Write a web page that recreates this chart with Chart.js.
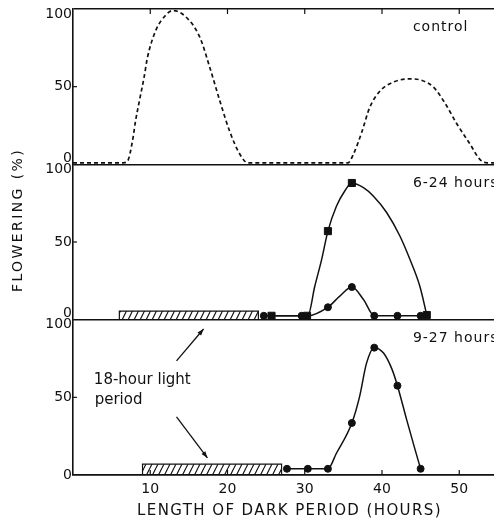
<!DOCTYPE html>
<html>
<head>
<meta charset="utf-8">
<script src="https://cdn.jsdelivr.net/npm/chart.js@4/dist/chart.umd.min.js"></script>
<style>
  html, body { margin: 0; padding: 0; background: #fff; }
  #chart { display: block; }
</style>
</head>
<body>
<canvas id="chart" width="494" height="522"></canvas>
<script>
"use strict";

const ink = "#111";

const hourTicks = [10, 20, 30, 40, 50];
const flowTicks = [0, 50, 100];
const panelAxes = ["yTop", "yMid", "yBot"];
const panelLabels = ["control", "6-24 hours", "9-27 hours"];

// control: dashed trace
const controlHours = [0, 6.5, 7.05, 7.7, 8.1, 8.6, 9.2, 9.65, 10.7, 12, 12.9, 14.6, 16.4, 17.7, 19, 20.3, 21.6, 22.6,
  35.6, 36.3, 37.4, 38.4, 39.7, 41.5, 43.6, 45.2, 46.7, 48.2, 49.7, 51.4, 52.7, 53.6, 54.5];
const controlFlowering = [1, 1, 2, 15, 28, 41, 56, 69, 86, 96, 99, 95, 82, 62.5, 41, 21, 6.5, 1,
  1, 6.5, 21, 36.5, 47, 53, 55, 54, 49.5, 39, 26, 13, 3, 1, 1];

// 6-24 hours light period
const lightHoursA = [6, 6, 24, 24];
const lightLevelA = [0, 5.5, 5.5, 0];
const squareHours = [25.7, 30.3, 33, 36.1, 45.8];
const squareFlowering = [2.5, 2.5, 57, 88, 3];
const squareCurveHours = [25.7, 29.6, 30.4, 31.3, 32.2, 33, 34.1, 35.2, 36.1, 37.6, 38.9, 40.6, 42.3, 43.6, 44.9, 45.8];
const squareCurveFlowering = [2.5, 2.5, 2.5, 21.5, 39, 57, 73, 83, 88, 85, 79.5, 69, 54, 39, 21.5, 3];
const dotHoursA = [24.7, 29.6, 33, 36.1, 39, 42, 45];
const dotFloweringA = [2.5, 2.5, 8, 21, 2.5, 2.5, 2.5];
const dotCurveHoursA = [24.7, 29.6, 30.4, 33, 34.5, 36.1, 37.6, 39, 42, 45];
const dotCurveFloweringA = [2.5, 2.5, 2.5, 8, 15, 21, 13, 2.5, 2.5, 2.5];

// 9-27 hours light period
const lightHoursB = [9, 9, 27, 27];
const lightLevelB = [0, 7, 7, 0];
const dotHoursB = [27.7, 30.4, 33, 36.1, 39, 42, 45];
const dotFloweringB = [4, 4, 4, 33.5, 82, 57.5, 4];
const dotCurveHoursB = [27.7, 30.4, 33, 34.1, 36.1, 37.1, 38, 39, 40.2, 41.3, 42, 43.2, 44.3, 45];
const dotCurveFloweringB = [4, 4, 4, 14, 33.5, 50.5, 72, 82, 78.5, 68, 57.5, 35.5, 16, 4];

function toPoints(xs, ys) {
  return xs.map((x, i) => ({ x, y: ys[i] }));
}

function hatchPattern() {
  const tile = document.createElement("canvas");
  tile.width = 6;
  tile.height = 12;
  const c = tile.getContext("2d");
  c.strokeStyle = ink;
  c.lineWidth = 1.2;
  c.beginPath();
  c.moveTo(0, 12); c.lineTo(6, 0);
  c.moveTo(-6, 12); c.lineTo(0, 0);
  c.moveTo(6, 12); c.lineTo(12, 0);
  c.stroke();
  return c.createPattern(tile, "repeat");
}

const hatch = hatchPattern();

function curve(xs, ys, axis, extra) {
  return Object.assign({
    type: "line",
    data: toPoints(xs, ys),
    yAxisID: axis,
    borderColor: ink,
    borderWidth: 1.5,
    pointRadius: 0,
    cubicInterpolationMode: "monotone",
    fill: false
  }, extra || {});
}

function markers(xs, ys, axis, style, radius) {
  return {
    type: "line",
    data: toPoints(xs, ys),
    yAxisID: axis,
    showLine: false,
    pointStyle: style,
    pointRadius: radius,
    pointBackgroundColor: ink,
    pointBorderColor: ink,
    pointBorderWidth: 1
  };
}

function lightBar(xs, ys, axis) {
  return {
    type: "line",
    data: toPoints(xs, ys),
    yAxisID: axis,
    borderColor: ink,
    borderWidth: 1.2,
    backgroundColor: hatch,
    pointRadius: 0,
    tension: 0,
    fill: "origin"
  };
}

function drawArrow(ctx, x1, y1, x2, y2) {
  const angle = Math.atan2(y2 - y1, x2 - x1);
  ctx.beginPath();
  ctx.moveTo(x1, y1);
  ctx.lineTo(x2, y2);
  ctx.stroke();
  ctx.beginPath();
  ctx.moveTo(x2, y2);
  ctx.lineTo(x2 - 7 * Math.cos(angle - 0.35), y2 - 7 * Math.sin(angle - 0.35));
  ctx.lineTo(x2 - 7 * Math.cos(angle + 0.35), y2 - 7 * Math.sin(angle + 0.35));
  ctx.closePath();
  ctx.fill();
}

const annotations = {
  id: "annotations",
  afterDraw(chart) {
    const { ctx, chartArea, scales } = chart;
    const x = scales.x;

    ctx.save();
    ctx.fillStyle = ink;
    ctx.strokeStyle = ink;
    ctx.lineWidth = 1.2;

    // y tick labels, nudged off the panel joins
    ctx.font = "14px 'DejaVu Sans'";
    ctx.textAlign = "right";
    ctx.textBaseline = "middle";
    panelAxes.forEach((id, i) => {
      const scale = scales[id];
      const last = i === panelAxes.length - 1;
      flowTicks.forEach((v) => {
        let y = scale.getPixelForValue(v);
        if (v === 100) y += 5;
        if (v === 0 && !last) y -= 6;
        ctx.fillText(String(v), chartArea.left - 1, y);
      });
      const y50 = scale.getPixelForValue(50);
      ctx.beginPath();
      ctx.moveTo(chartArea.left, y50);
      ctx.lineTo(chartArea.left + 4, y50);
      ctx.stroke();
    });

    // inward x ticks on top and bottom frame
    hourTicks.forEach((h) => {
      const px = x.getPixelForValue(h);
      ctx.beginPath();
      ctx.moveTo(px, chartArea.bottom);
      ctx.lineTo(px, chartArea.bottom - 5);
      ctx.moveTo(px, chartArea.top);
      ctx.lineTo(px, chartArea.top + 5);
      ctx.stroke();
    });

    // panel labels
    ctx.textAlign = "left";
    ctx.font = "14px 'DejaVu Sans'";
    ctx.letterSpacing = "1px";
    panelAxes.forEach((id, i) => {
      ctx.fillText(panelLabels[i], x.getPixelForValue(44), scales[id].getPixelForValue(88));
    });

    // light period note with arrows
    const yb = scales.yBot;
    ctx.font = "15px 'DejaVu Sans'";
    ctx.letterSpacing = "0px";
    ctx.fillText("18-hour light", x.getPixelForValue(2.7), yb.getPixelForValue(61));
    ctx.fillText("period", x.getPixelForValue(2.8), yb.getPixelForValue(48));
    ctx.lineWidth = 1.3;
    drawArrow(ctx, x.getPixelForValue(13.4), yb.getPixelForValue(73.5), x.getPixelForValue(16.9), yb.getPixelForValue(94));
    drawArrow(ctx, x.getPixelForValue(13.4), yb.getPixelForValue(37.4), x.getPixelForValue(17.4), yb.getPixelForValue(11));

    // axis titles
    ctx.textAlign = "center";
    ctx.font = "15px 'DejaVu Sans'";
    ctx.letterSpacing = "1.4px";
    ctx.fillText("LENGTH OF DARK PERIOD (HOURS)", (chartArea.left + chartArea.right) / 2 + 6, 511);

    ctx.font = "14px 'DejaVu Sans'";
    ctx.letterSpacing = "2.4px";
    ctx.translate(18, 220);
    ctx.rotate(-Math.PI / 2);
    ctx.fillText("FLOWERING (%)", 0, 0);
    ctx.restore();
  }
};

function panelAxis(weight, top) {
  return {
    type: "linear",
    position: "left",
    stack: "panels",
    stackWeight: 1,
    weight,
    min: 0,
    max: 100,
    ticks: { stepSize: 50, display: false },
    grid: {
      drawTicks: false,
      lineWidth: 1.6,
      color: (ctx) => {
        const v = ctx.tick && ctx.tick.value;
        return v === 0 || (top && v === 100) ? ink : "transparent";
      }
    },
    border: { display: true, color: ink, width: 1.6 },
    afterFit: (scale) => {
      scale.width = 73;
      scale.paddingTop = 0;
      scale.paddingBottom = 0;
    }
  };
}

Chart.defaults.font.family = "'DejaVu Sans'";
Chart.defaults.color = ink;

new Chart(document.getElementById("chart"), {
  type: "line",
  data: {
    datasets: [
      curve(controlHours, controlFlowering, "yTop", { borderDash: [4, 3], borderWidth: 1.7 }),
      lightBar(lightHoursA, lightLevelA, "yMid"),
      curve(squareCurveHours, squareCurveFlowering, "yMid"),
      curve(dotCurveHoursA, dotCurveFloweringA, "yMid"),
      markers(squareHours, squareFlowering, "yMid", "rect", 5),
      markers(dotHoursA, dotFloweringA, "yMid", "circle", 3.5),
      lightBar(lightHoursB, lightLevelB, "yBot"),
      curve(dotCurveHoursB, dotCurveFloweringB, "yBot"),
      markers(dotHoursB, dotFloweringB, "yBot", "circle", 3.5)
    ]
  },
  options: {
    responsive: false,
    animation: false,
    devicePixelRatio: 1,
    layout: { autoPadding: false, padding: { top: 9, right: 0, bottom: 0, left: 0 } },
    plugins: {
      legend: { display: false },
      tooltip: { enabled: false }
    },
    scales: {
      x: {
        type: "linear",
        min: 0,
        max: 54.5,
        afterBuildTicks: (scale) => { scale.ticks = hourTicks.map((value) => ({ value })); },
        afterFit: (scale) => {
          scale.height = 47;
          scale.paddingLeft = 0;
          scale.paddingRight = 0;
        },
        ticks: { font: { size: 14 }, padding: 6, maxRotation: 0 },
        grid: { display: false, drawTicks: false },
        border: { display: true, color: ink, width: 1.6 }
      },
      yTop: panelAxis(3, true),
      yMid: panelAxis(2, false),
      yBot: panelAxis(1, false)
    }
  },
  plugins: [annotations]
});
</script>
</body>
</html>
